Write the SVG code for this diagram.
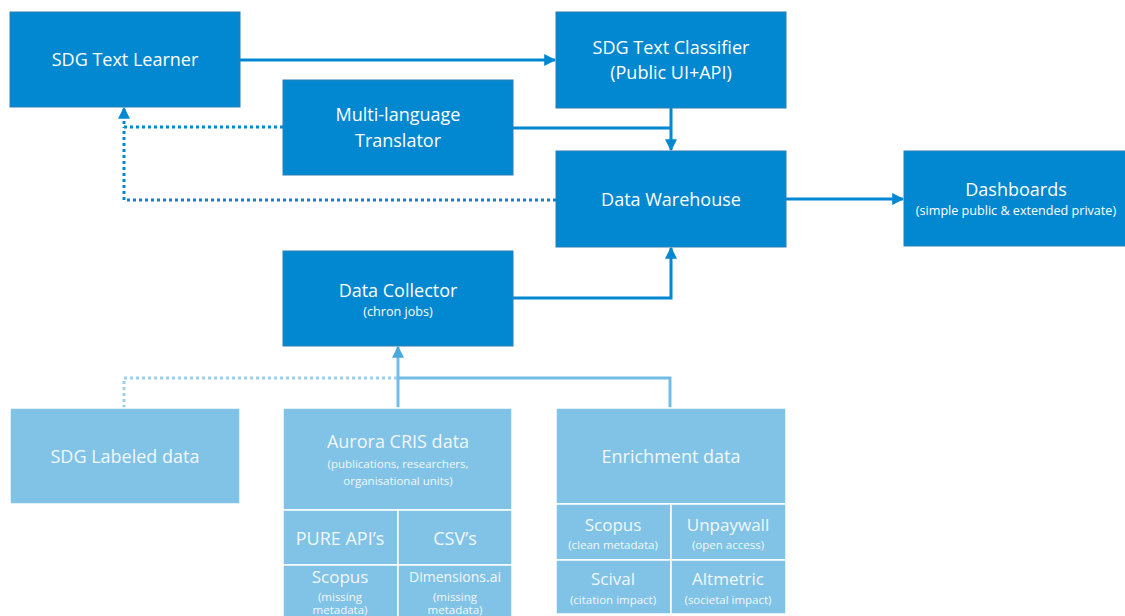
<svg xmlns="http://www.w3.org/2000/svg" width="1125" height="616" viewBox="0 0 1125 616">
<style>
.dk{fill:#0288d1;stroke:#2a7fb5;stroke-width:1}
.lt{fill:#80c3e6;stroke:#ffffff;stroke-width:1.5}
text{font-family:"Open Sans","Liberation Sans",sans-serif;fill:#ffffff;text-anchor:middle}
.t{font-size:18px}
.s{font-size:11.5px}
.s2{font-size:12.6px}
.lt-t{fill:#f2f8fc}
.c{fill:none;stroke:#0288d1;stroke-width:3}
.cd{fill:none;stroke:#0288d1;stroke-width:3;stroke-dasharray:3 3}
.cl{fill:none;stroke:#72bde6;stroke-width:3}
.cld{fill:none;stroke:#9bd0ee;stroke-width:3;stroke-dasharray:3 3}
</style>
<defs>
<marker id="ad" viewBox="0 0 10 10" refX="9" refY="5" markerWidth="4" markerHeight="4" orient="auto" markerUnits="strokeWidth"><path d="M0,0 L10,5 L0,10 z" fill="#0288d1"/></marker>
<marker id="al" viewBox="0 0 10 10" refX="9" refY="5" markerWidth="4" markerHeight="4" orient="auto" markerUnits="strokeWidth"><path d="M0,0 L10,5 L0,10 z" fill="#4aa8dc"/></marker>
</defs>
<rect width="1125" height="616" fill="#ffffff"/>
<g id="connectors">
<path class="c" d="M240,60 H555" marker-end="url(#ad)"/>
<path class="c" d="M671,108 V150" marker-end="url(#ad)"/>
<path class="c" d="M513,128 H671"/>
<path class="cd" d="M283,127 H124 V108" marker-end="url(#ad)"/>
<path class="cd" d="M556,200 H124 V127"/>
<path class="c" d="M786,199 H903" marker-end="url(#ad)"/>
<path class="c" d="M513,298 H671 V248" marker-end="url(#ad)"/>
<path class="cld" d="M124,408 V378 H398"/>
<path class="cl" d="M670,408 V378 H398"/>
<path class="cl" d="M398,408 V347" marker-end="url(#al)"/>
</g>
<g id="learner"><rect class="dk" x="10" y="12" width="230" height="95"/><text class="t" x="125" y="66">SDG Text Learner</text></g>
<g id="classifier"><rect class="dk" x="556" y="12" width="230" height="96"/><text class="t" x="671" y="54">SDG Text Classifier</text><text class="t" x="671" y="79">(Public UI+API)</text></g>
<g id="translator"><rect class="dk" x="283" y="80" width="230" height="95"/><text class="t" x="398" y="121">Multi-language</text><text class="t" x="398" y="147">Translator</text></g>
<g id="warehouse"><rect class="dk" x="556" y="151" width="230" height="96"/><text class="t" x="671" y="206">Data Warehouse</text></g>
<g id="dashboards"><rect class="dk" x="904" y="151" width="222" height="95"/><text class="t" x="1016" y="196">Dashboards</text><text class="s2" x="1016" y="215">(simple public &amp; extended private)</text></g>
<g id="collector"><rect class="dk" x="283" y="251" width="230" height="95"/><text class="t" x="398" y="297">Data Collector</text><text class="s2" x="398" y="316">(chron jobs)</text></g>
<g id="labeled"><rect class="lt" x="10" y="408" width="230" height="96"/><text class="t lt-t" x="125" y="463">SDG Labeled data</text></g>
<g id="aurora">
<rect class="lt" x="283" y="408" width="229" height="102"/>
<text class="t lt-t" x="398" y="448">Aurora CRIS data</text>
<text class="s lt-t" x="398" y="468">(publications, researchers,</text>
<text class="s lt-t" x="398" y="485">organisational units)</text>
<rect class="lt" x="283" y="510" width="115" height="55"/><text class="t lt-t" x="340" y="545">PURE API’s</text>
<rect class="lt" x="398" y="510" width="114" height="55"/><text class="t lt-t" x="455" y="545">CSV’s</text>
<rect class="lt" x="283" y="565" width="115" height="55"/><text class="lt-t" style="font-size:17px" x="340" y="583">Scopus</text><text class="s lt-t" x="340" y="601">(missing</text><text class="s lt-t" x="340" y="614">metadata)</text>
<rect class="lt" x="398" y="565" width="114" height="55"/><text class="lt-t" style="font-size:14px" x="455" y="582">Dimensions.ai</text><text class="s lt-t" x="455" y="601">(missing</text><text class="s lt-t" x="455" y="614">metadata)</text>
</g>
<g id="enrichment">
<rect class="lt" x="556" y="408" width="230" height="96"/>
<text class="t lt-t" x="671" y="463">Enrichment data</text>
<rect class="lt" x="556" y="504" width="115" height="56"/><text class="lt-t" style="font-size:17px" x="613" y="531">Scopus</text><text class="s lt-t" x="613" y="549">(clean metadata)</text>
<rect class="lt" x="671" y="504" width="115" height="56"/><text class="lt-t" style="font-size:17px" x="728" y="531">Unpaywall</text><text class="s lt-t" x="728" y="549">(open access)</text>
<rect class="lt" x="556" y="560" width="115" height="54"/><text class="lt-t" style="font-size:17px" x="613" y="585">Scival</text><text class="s lt-t" x="613" y="604">(citation impact)</text>
<rect class="lt" x="671" y="560" width="115" height="54"/><text class="lt-t" style="font-size:17px" x="728" y="585">Altmetric</text><text class="s lt-t" x="728" y="604">(societal impact)</text>
</g>
</svg>
